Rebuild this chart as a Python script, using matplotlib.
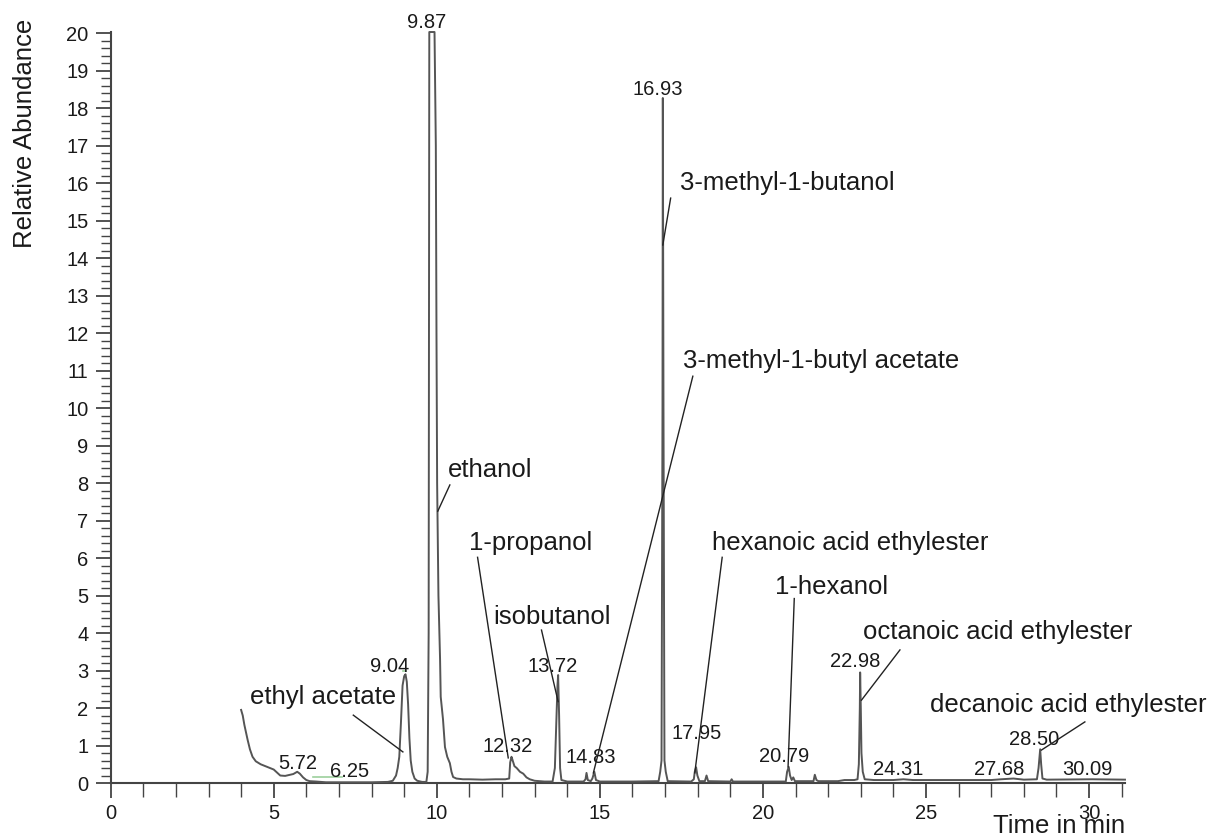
import matplotlib
matplotlib.use("Agg")
import matplotlib.pyplot as plt
from matplotlib.ticker import MultipleLocator

plt.rcParams['font.family'] = ['Liberation Sans', 'DejaVu Sans']

# chromatogram trace: retention time (min) and relative abundance
rt = [4.00, 4.05, 4.10, 4.15, 4.20, 4.27, 4.35, 4.45, 4.60, 4.80,
      5.00, 5.10, 5.20, 5.35, 5.50, 5.60, 5.72, 5.80, 5.90, 6.00,
      6.10, 6.30, 6.60, 7.00, 7.50, 8.00, 8.50, 8.65, 8.75, 8.80,
      8.85, 8.90, 8.95, 9.00, 9.04, 9.08, 9.12, 9.16, 9.20, 9.25,
      9.32, 9.40, 9.55, 9.68, 9.72, 9.75, 9.77, 9.87, 9.93, 9.97,
      9.99, 10.01, 10.05, 10.10, 10.12, 10.19, 10.25, 10.32, 10.40, 10.45,
      10.50, 10.60, 10.80, 11.00, 11.40, 11.80, 12.10, 12.22, 12.25, 12.29,
      12.32, 12.38, 12.45, 12.55, 12.65, 12.75, 12.85, 13.00, 13.30, 13.55,
      13.62, 13.66, 13.70, 13.72, 13.75, 13.78, 13.82, 14.00, 14.50, 14.56,
      14.59, 14.63, 14.72, 14.77, 14.83, 14.88, 15.00, 16.00, 16.80, 16.85,
      16.89, 16.92, 16.93, 16.95, 16.98, 17.02, 17.08, 17.80, 17.88, 17.91,
      17.95, 17.99, 18.05, 18.22, 18.27, 18.32, 19.00, 19.04, 19.08, 20.70,
      20.74, 20.79, 20.83, 20.88, 20.93, 20.98, 21.55, 21.59, 21.64, 21.70,
      22.30, 22.50, 22.80, 22.90, 22.94, 22.97, 22.98, 23.00, 23.02, 23.06,
      23.12, 23.40, 24.00, 24.31, 24.60, 27.00, 27.30, 27.68, 28.00, 28.40,
      28.45, 28.50, 28.53, 28.57, 28.70, 30.09, 31.10]
abundance = [1.95, 1.80, 1.55, 1.35, 1.15, 0.90, 0.70, 0.58, 0.50, 0.43,
             0.36, 0.28, 0.20, 0.19, 0.22, 0.24, 0.30, 0.25, 0.15, 0.08,
             0.05, 0.04, 0.02, 0.02, 0.02, 0.02, 0.03, 0.06, 0.20, 0.40,
             0.70, 1.60, 2.60, 2.85, 2.90, 2.70, 2.10, 1.20, 0.60, 0.30,
             0.12, 0.06, 0.03, 0.03, 0.30, 4.00, 20.03, 20.03, 20.03, 17.00,
             12.00, 8.00, 5.00, 3.30, 2.30, 1.70, 0.96, 0.70, 0.53, 0.30,
             0.16, 0.12, 0.10, 0.10, 0.09, 0.10, 0.10, 0.12, 0.55, 0.70,
             0.62, 0.45, 0.40, 0.30, 0.25, 0.15, 0.10, 0.06, 0.04, 0.04,
             0.40, 1.50, 2.60, 2.88, 1.80, 0.40, 0.08, 0.04, 0.04, 0.10,
             0.27, 0.08, 0.05, 0.12, 0.30, 0.08, 0.04, 0.04, 0.05, 0.30,
             0.60, 10.00, 18.27, 10.00, 0.60, 0.30, 0.05, 0.04, 0.10, 0.30,
             0.42, 0.20, 0.05, 0.05, 0.20, 0.05, 0.04, 0.10, 0.04, 0.04,
             0.30, 0.43, 0.20, 0.08, 0.15, 0.05, 0.05, 0.22, 0.08, 0.05,
             0.05, 0.08, 0.08, 0.10, 0.50, 2.00, 2.95, 2.00, 0.80, 0.30,
             0.10, 0.08, 0.08, 0.10, 0.08, 0.08, 0.10, 0.12, 0.09, 0.10,
             0.40, 0.90, 0.50, 0.12, 0.09, 0.10, 0.09]

# retention times printed above the peaks
peak_labels = ["5.72", "6.25", "9.04", "9.87", "12.32", "13.72", "14.83", "16.93",
               "17.95", "20.79", "22.98", "24.31", "27.68", "28.50", "30.09"]

# identified compounds
compounds = ["ethyl acetate", "ethanol", "1-propanol", "isobutanol",
             "3-methyl-1-butyl acetate", "3-methyl-1-butanol",
             "hexanoic acid ethylester", "1-hexanol",
             "octanoic acid ethylester", "decanoic acid ethylester"]

# where each retention time label sits (data coords, centred)
peak_label_pos = {
    "5.72": (5.74, 0.53), "6.25": (7.34, 0.30), "9.04": (8.56, 3.10),
    "9.87": (9.70, 20.28), "12.32": (12.18, 0.97), "13.72": (13.56, 3.10),
    "14.83": (14.73, 0.67), "16.93": (16.78, 18.49), "17.95": (17.98, 1.33),
    "20.79": (20.65, 0.70), "22.98": (22.84, 3.24), "24.31": (24.14, 0.35),
    "27.68": (27.23, 0.35), "28.50": (28.31, 1.15), "30.09": (29.95, 0.35),
}

# compound text anchor (left, middle) and leader line (from, to)
compound_layout = {
    "ethyl acetate": ((4.27, 2.30), (7.44, 1.81), (8.96, 0.83)),
    "ethanol": ((10.35, 8.35), (10.40, 7.95), (10.03, 7.25)),
    "1-propanol": ((11.00, 6.40), (11.25, 6.02), (12.19, 0.67)),
    "isobutanol": ((11.72, 4.43), (13.21, 4.08), (13.72, 2.17)),
    "3-methyl-1-butyl acetate": ((17.55, 11.25), (17.85, 10.85), (14.80, 0.27)),
    "3-methyl-1-butanol": ((17.45, 16.00), (17.17, 15.60), (16.93, 14.35)),
    "hexanoic acid ethylester": ((18.45, 6.40), (18.75, 6.02), (17.91, 0.27)),
    "1-hexanol": ((20.36, 5.24), (20.96, 4.92), (20.77, 0.43)),
    "octanoic acid ethylester": ((23.07, 4.03), (24.20, 3.55), (23.02, 2.21)),
    "decanoic acid ethylester": ((25.12, 2.08), (29.87, 1.63), (28.54, 0.88)),
}

trace_col = '#555555'
text_col = '#1a1a1a'

fig = plt.figure(figsize=(12.12, 8.38), dpi=100)
ax = fig.add_axes([0.0913, 0.0656, 0.8369, 0.8962])

ax.plot(rt, abundance, color=trace_col, lw=1.4, clip_on=False, zorder=3)

# integration markers
ax.plot([6.2, 7.1], [0.15, 0.15], color='#9ccf9c', lw=1.2, zorder=2)
ax.plot([8.97, 9.07], [3.0, 3.0], color='#9ccf9c', lw=1.2, zorder=2)

for lab in peak_labels:
    x, y = peak_label_pos[lab]
    ax.text(x, y, lab, ha='center', va='center', fontsize=14.5,
            color=text_col, clip_on=False, zorder=4)

for name in compounds:
    (tx, ty), p0, p1 = compound_layout[name]
    ax.text(tx, ty, name, ha='left', va='center', fontsize=18.5,
            color=text_col, clip_on=False, zorder=4)
    ax.plot([p0[0], p1[0]], [p0[1], p1[1]], color='#222222', lw=1.0,
            clip_on=False, zorder=4)

ax.set_xlim(0, 31.1)
ax.set_ylim(0, 20.03)
for side in ('top', 'right'):
    ax.spines[side].set_visible(False)
for side in ('left', 'bottom'):
    ax.spines[side].set_color('#444444')
    ax.spines[side].set_linewidth(1.5)

ax.xaxis.set_major_locator(MultipleLocator(5))
ax.xaxis.set_minor_locator(MultipleLocator(1))
ax.yaxis.set_major_locator(MultipleLocator(1))
ax.yaxis.set_minor_locator(MultipleLocator(0.2))
ax.tick_params(axis='both', which='major', labelsize=14.5, colors='#444444',
               labelcolor=text_col, width=1.3, length=11, direction='out')
ax.tick_params(axis='both', which='minor', colors='#444444', width=1.0,
               length=7, direction='out')
ax.tick_params(axis='x', which='minor', length=10)
ax.tick_params(axis='x', which='major', pad=4)
ax.tick_params(axis='y', which='major', pad=5)

fig.text(0.0206, 1 - 133 / 838, 'Relative Abundance', rotation=90,
         ha='center', va='center', fontsize=18.5, color=text_col)
fig.text(1059 / 1212, 1 - 826 / 838, 'Time in min', ha='center',
         va='center', fontsize=18.5, color=text_col)

fig.savefig('out.png', dpi=100, facecolor='white')
